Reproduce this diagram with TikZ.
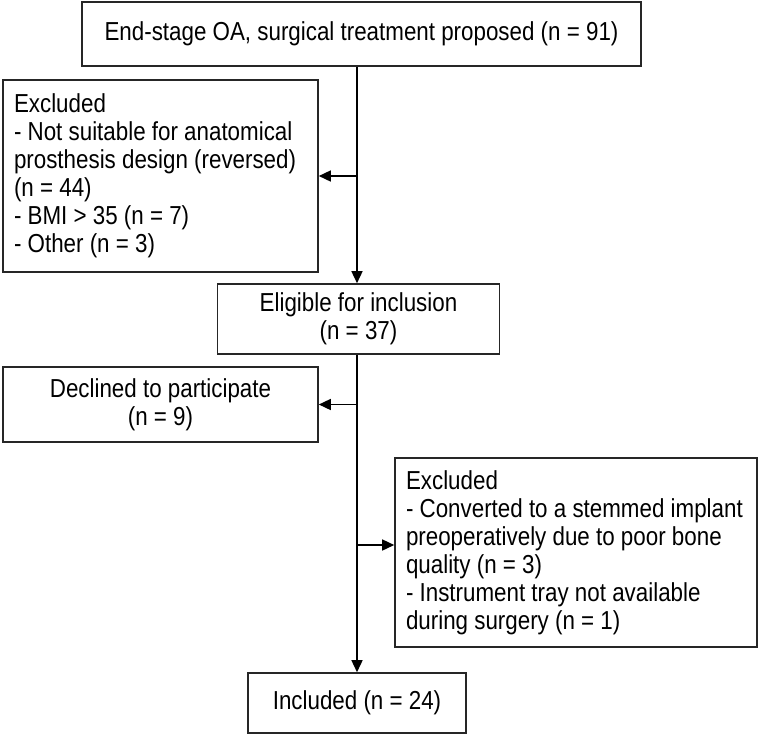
\documentclass[tikz,border=0pt]{standalone}
\usepackage{fontspec}
\setmainfont{Liberation Sans}[FakeStretch=0.86]
\usetikzlibrary{arrows.meta}

\begin{document}
\begin{tikzpicture}[x=0.5pt, y=-0.5pt,
    box/.style={draw=black!85, line width=0.8pt, inner sep=0pt,
      font=\fontsize{13}{14}\selectfont},
    midbox/.style={box, align=center},
    listbox/.style={box, align=flush left, inner xsep=5.5pt},
    flow/.style={line width=0.75pt, -{Triangle[length=6pt, width=5.5pt]}}]

  \useasboundingbox (0,0) rectangle (759,734);

  % Define nodes
  \coordinate (spine) at (357,0);
  \node[midbox, minimum width=279.5pt, minimum height=32pt] (top) at (361.5,34)
    {End-stage OA, surgical treatment proposed (n = 91)};
  \node[listbox, text width=146.5pt, minimum height=96pt] (excl1) at (160.5,176)
    {Excluded\\- Not suitable for anatomical\\prosthesis design (reversed)\\(n = 44)\\- BMI > 35 (n = 7)\\- Other (n = 3)};
  \node[midbox, minimum width=141pt, minimum height=35pt] (elig) at (358.5,319)
    {Eligible for inclusion\\(n = 37)};
  \node[midbox, minimum width=157.5pt, minimum height=37.5pt] (decl) at (160.5,404.5)
    {Declined to participate\\(n = 9)};
  \node[listbox, text width=170pt, minimum height=94.5pt] (excl2) at (576,552.5)
    {Excluded\\- Converted to a stemmed implant\\preoperatively due to poor bone\\quality (n = 3)\\- Instrument tray not available\\during surgery (n = 1)};
  \node[midbox, minimum width=109pt, minimum height=30pt] (incl) at (357,703)
    {Included (n = 24)};

  % Connect the nodes
  \draw[flow] (top.south -| spine) -- (elig.north -| spine);
  \draw[flow] (excl1.east -| spine) -- (excl1.east);
  \draw[flow] (elig.south -| spine) -- (incl.north -| spine);
  \draw[flow] (decl.east -| spine) -- (decl.east);
  \draw[flow] ([yshift=3.75pt]excl2.west -| spine) -- ([yshift=3.75pt]excl2.west);

\end{tikzpicture}
\end{document}
